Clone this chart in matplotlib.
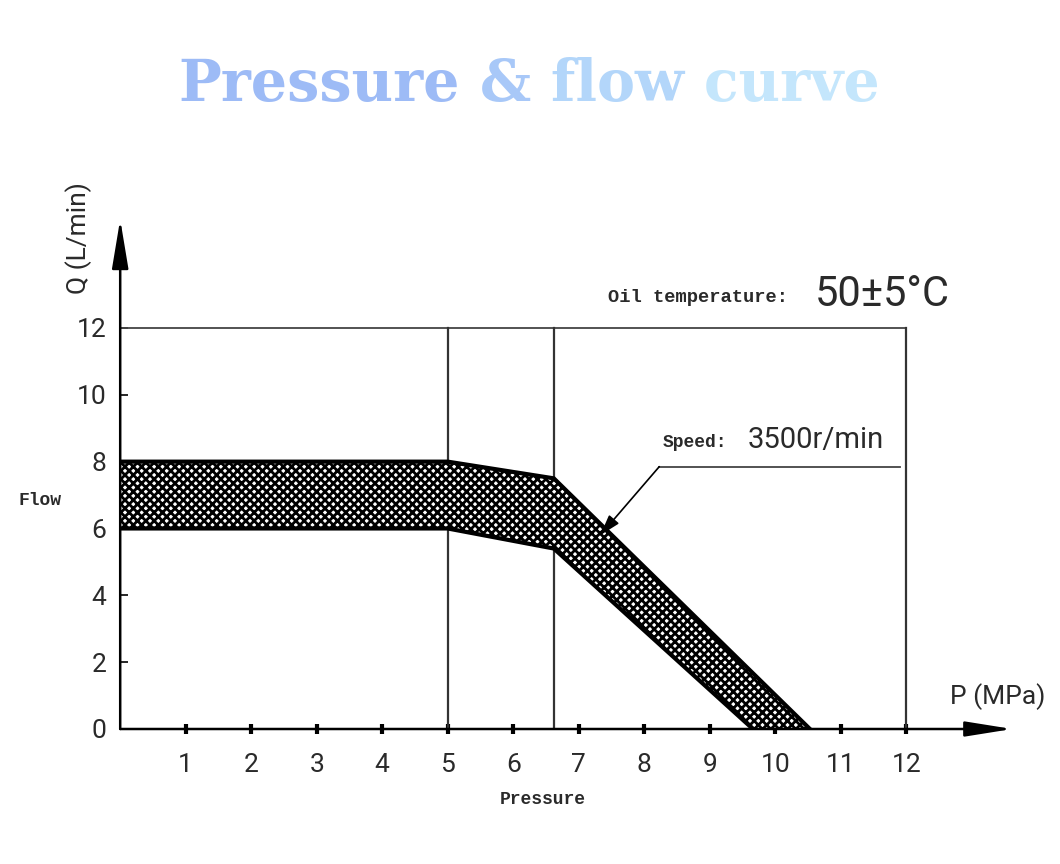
import matplotlib

matplotlib.use("Agg")
import matplotlib.pyplot as plt
import numpy as np
from matplotlib import transforms

# band (P in MPa, Q in L/min)
pressure_upper = [0, 5, 6.62, 10.53]
flow_upper = [8, 8, 7.5, 0]
pressure_lower = [0, 5, 6.62, 9.66]
flow_lower = [6, 6, 5.4, 0]

guide_pressures = [5, 6.62]
x_ticks = list(range(1, 13))
y_ticks = list(range(0, 13, 2))

title_words = ["Pressure", "&", "flow", "curve"]
title_colors = ["#9dbbf6", "#a8c8f8", "#b3d6fa", "#c4e6fc"]

LABEL_FONT = ["Liberation Mono", "DejaVu Sans Mono"]
NUM_FONT = ["Roboto", "DejaVu Sans"]
NUM_WEIGHT = "normal"
INK = "#2a2a2a"

plt.rcParams["hatch.linewidth"] = 2.0
plt.rcParams["hatch.color"] = "black"

fig = plt.figure(figsize=(10.6, 8.64), dpi=100)
ax = fig.add_axes([120.2 / 1060, 135 / 864, 14 * 65.5 / 1060, 16 * 33.42 / 864])
ax.set_xlim(0, 14)
ax.set_ylim(0, 16)
for s in ax.spines.values():
    s.set_visible(False)

# axes with arrow heads (mutation_scale is in points)
ax.annotate("", xy=(13.62, 0), xytext=(0, 0),
            arrowprops=dict(arrowstyle="-|>,head_length=2.0,head_width=0.32",
                            mutation_scale=14.4, color="black", lw=1.8,
                            shrinkA=0, shrinkB=0))
ax.annotate("", xy=(0, 15.25), xytext=(0, 0),
            arrowprops=dict(arrowstyle="-|>,head_length=2.1,head_width=0.35",
                            mutation_scale=14.4, color="black", lw=1.8,
                            shrinkA=0, shrinkB=0))

# frame and guide lines
ax.plot([0, 12], [12, 12], color="#444444", lw=1.3)
ax.plot([12, 12], [0, 12], color="#333333", lw=1.6)
for p in guide_pressures:
    ax.plot([p, p], [0, 12], color="#333333", lw=1.6)

# hatched band
poly_x = np.concatenate([pressure_upper, pressure_lower[::-1]])
poly_y = np.concatenate([flow_upper, flow_lower[::-1]])
ax.fill(poly_x, poly_y, facecolor="white", edgecolor="black", hatch="xxxx", lw=0, zorder=2)
ax.plot(pressure_upper, flow_upper, color="black", lw=3, solid_joinstyle="miter", zorder=3)
ax.plot(pressure_lower, flow_lower, color="black", lw=3, solid_joinstyle="miter", zorder=3)

# ticks
ax.set_xticks(x_ticks)
ax.set_xticklabels([str(t) for t in x_ticks], family=NUM_FONT, fontweight=NUM_WEIGHT,
                   fontsize=19, color=INK)
ax.set_yticks(y_ticks)
ax.set_yticklabels([str(t) for t in y_ticks], family=NUM_FONT, fontweight=NUM_WEIGHT,
                   fontsize=19, color=INK)
ax.tick_params(axis="x", direction="inout", length=7, width=3, pad=14, color="black")
ax.tick_params(axis="y", direction="in", length=6, width=1.2, pad=10, color="black")

# axis texts
ax.text(-0.64, 14.69, "Q (L/min)", rotation=90, ha="center", va="center",
        family=NUM_FONT, fontweight=NUM_WEIGHT, fontsize=19, color=INK)
ax.text(13.39, 0.96, "P (MPa)", ha="center", va="center",
        family=NUM_FONT, fontweight=NUM_WEIGHT, fontsize=19, color=INK)
ax.text(-1.22, 6.85, "Flow", ha="center", va="center",
        family=LABEL_FONT, fontweight="bold", fontsize=13, color=INK)
ax.text(6.45, -2.12, "Pressure", ha="center", va="center",
        family=LABEL_FONT, fontweight="bold", fontsize=13, color=INK)

# oil temperature note
ax.text(7.45, 12.9, "Oil temperature:", ha="left", va="center",
        family=LABEL_FONT, fontweight="bold", fontsize=13.5, color=INK)
ax.text(10.61, 12.99, "50±5°C", ha="left", va="center",
        family=NUM_FONT, fontweight=NUM_WEIGHT, fontsize=30, color=INK)

# speed callout
ax.text(8.29, 8.56, "Speed:", ha="left", va="center",
        family=LABEL_FONT, fontweight="bold", fontsize=13, color=INK)
ax.text(9.58, 8.65, "3500r/min", ha="left", va="center",
        family=NUM_FONT, fontweight=NUM_WEIGHT, fontsize=21, color=INK)
ax.plot([11.9, 8.23], [7.85, 7.85], color="#444444", lw=1.3)
ax.annotate("", xy=(7.33, 5.8), xytext=(8.23, 7.85),
            arrowprops=dict(arrowstyle="-|>,head_length=0.9,head_width=0.28",
                            mutation_scale=14, color="black", lw=1.2,
                            shrinkA=0, shrinkB=0), zorder=4)

# title, word by word for the colour fade
renderer = fig.canvas.get_renderer()
title_font = dict(family="DejaVu Serif", fontweight="heavy", fontsize=41, va="baseline", ha="left")
prev = fig.text(178 / 1060, 1 - 101 / 864, title_words[0], color=title_colors[0], **title_font)
for word, col in zip(title_words[1:], title_colors[1:]):
    width = prev.get_window_extent(renderer).width
    nxt = fig.text(0, 0, " " + word, color=col, **title_font)
    nxt.set_position(prev.get_position())
    nxt.set_transform(transforms.offset_copy(prev.get_transform(), fig=fig, x=width, units="dots"))
    prev = nxt

fig.savefig("out.png", dpi=100, facecolor="white")
